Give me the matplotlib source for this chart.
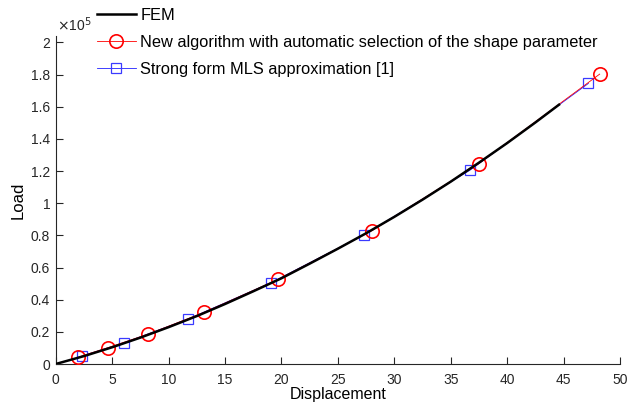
import matplotlib
matplotlib.use("Agg")
import matplotlib.pyplot as plt
from matplotlib.ticker import FuncFormatter, MultipleLocator

plt.rcParams['font.family'] = ['Liberation Sans', 'DejaVu Sans']

# FEM reference curve (displacement, load)
fem_x = [0, 2.5, 5, 7.5, 10, 12.5, 15, 17.5, 20, 22.5, 25, 27.5, 30, 32.5, 35, 37.5, 40, 42.5, 44.6]
fem_y = [0, 4900, 10400, 16400, 22900, 29800, 37300, 45200, 53300, 62400, 71700, 81300,
         91500, 102200, 113400, 125200, 137400, 150200, 161300]

# New algorithm with automatic selection of the shape parameter
new_x = [2.0, 4.6, 8.2, 13.15, 19.7, 28.05, 37.5, 48.2]
new_y = [4300, 10100, 18600, 32100, 52600, 83000, 124700, 180300]

# Strong form MLS approximation [1]
mls_x = [2.35, 6.05, 11.68, 19.05, 27.3, 36.7, 47.2]
mls_y = [5000, 13200, 27800, 50500, 80300, 120500, 174500]

labels = ['FEM', 'New algorithm with automatic selection of the shape parameter',
          'Strong form MLS approximation [1]']

fig = plt.figure(figsize=(6.27, 4.03), dpi=100)
ax = fig.add_axes([55.7 / 627, 39 / 403, (620 - 55.7) / 627, (364 - 36) / 403])

h1, = ax.plot(fem_x, fem_y, color='black', lw=1.8, zorder=5)
h2, = ax.plot(new_x, new_y, color='red', lw=0.6, marker='o', ms=9.6, mfc='none',
              mec='red', mew=1.2, zorder=4)
h3, = ax.plot(mls_x, mls_y, color='#2020ff', lw=0.6, marker='s', ms=7, mfc='none',
              mec='#3a3aff', mew=0.9, zorder=3)

ax.set_xlim(0, 50)
ax.set_ylim(0, 2.04e5)
ax.xaxis.set_major_locator(MultipleLocator(5))
ax.yaxis.set_major_locator(MultipleLocator(0.2e5))
ax.yaxis.set_major_formatter(FuncFormatter(lambda v, p: f'{v / 1e5:g}'))

for s in ['top', 'right']:
    ax.spines[s].set_visible(False)
for s in ['left', 'bottom']:
    ax.spines[s].set_color('#262626')
    ax.spines[s].set_linewidth(0.8)
ax.tick_params(direction='in', length=5, width=0.8, color='#262626',
               labelsize=10, labelcolor='#262626')
ax.tick_params(axis='x', pad=6.5)
ax.tick_params(axis='y', pad=4)

ax.set_xlabel('Displacement', fontsize=11.5, va='top')
ax.xaxis.set_label_coords(0.5, -(387 - 364) / 328)
ax.set_ylabel('Load', fontsize=12, labelpad=4)
fig.text(57 / 627, 1 - 25 / 403, r'$\times$10$^5$', fontsize=10, color='#262626',
         ha='left', va='center')

leg = ax.legend([h1, h2, h3], labels, loc='upper left', frameon=False,
                bbox_to_anchor=(97 / 627, 1 - 8 / 403), bbox_transform=fig.transFigure,
                fontsize=11.8, handlelength=2.35, handletextpad=0.3, labelspacing=0.72,
                borderpad=0, borderaxespad=0)

fig.savefig('out.png', dpi=100)
